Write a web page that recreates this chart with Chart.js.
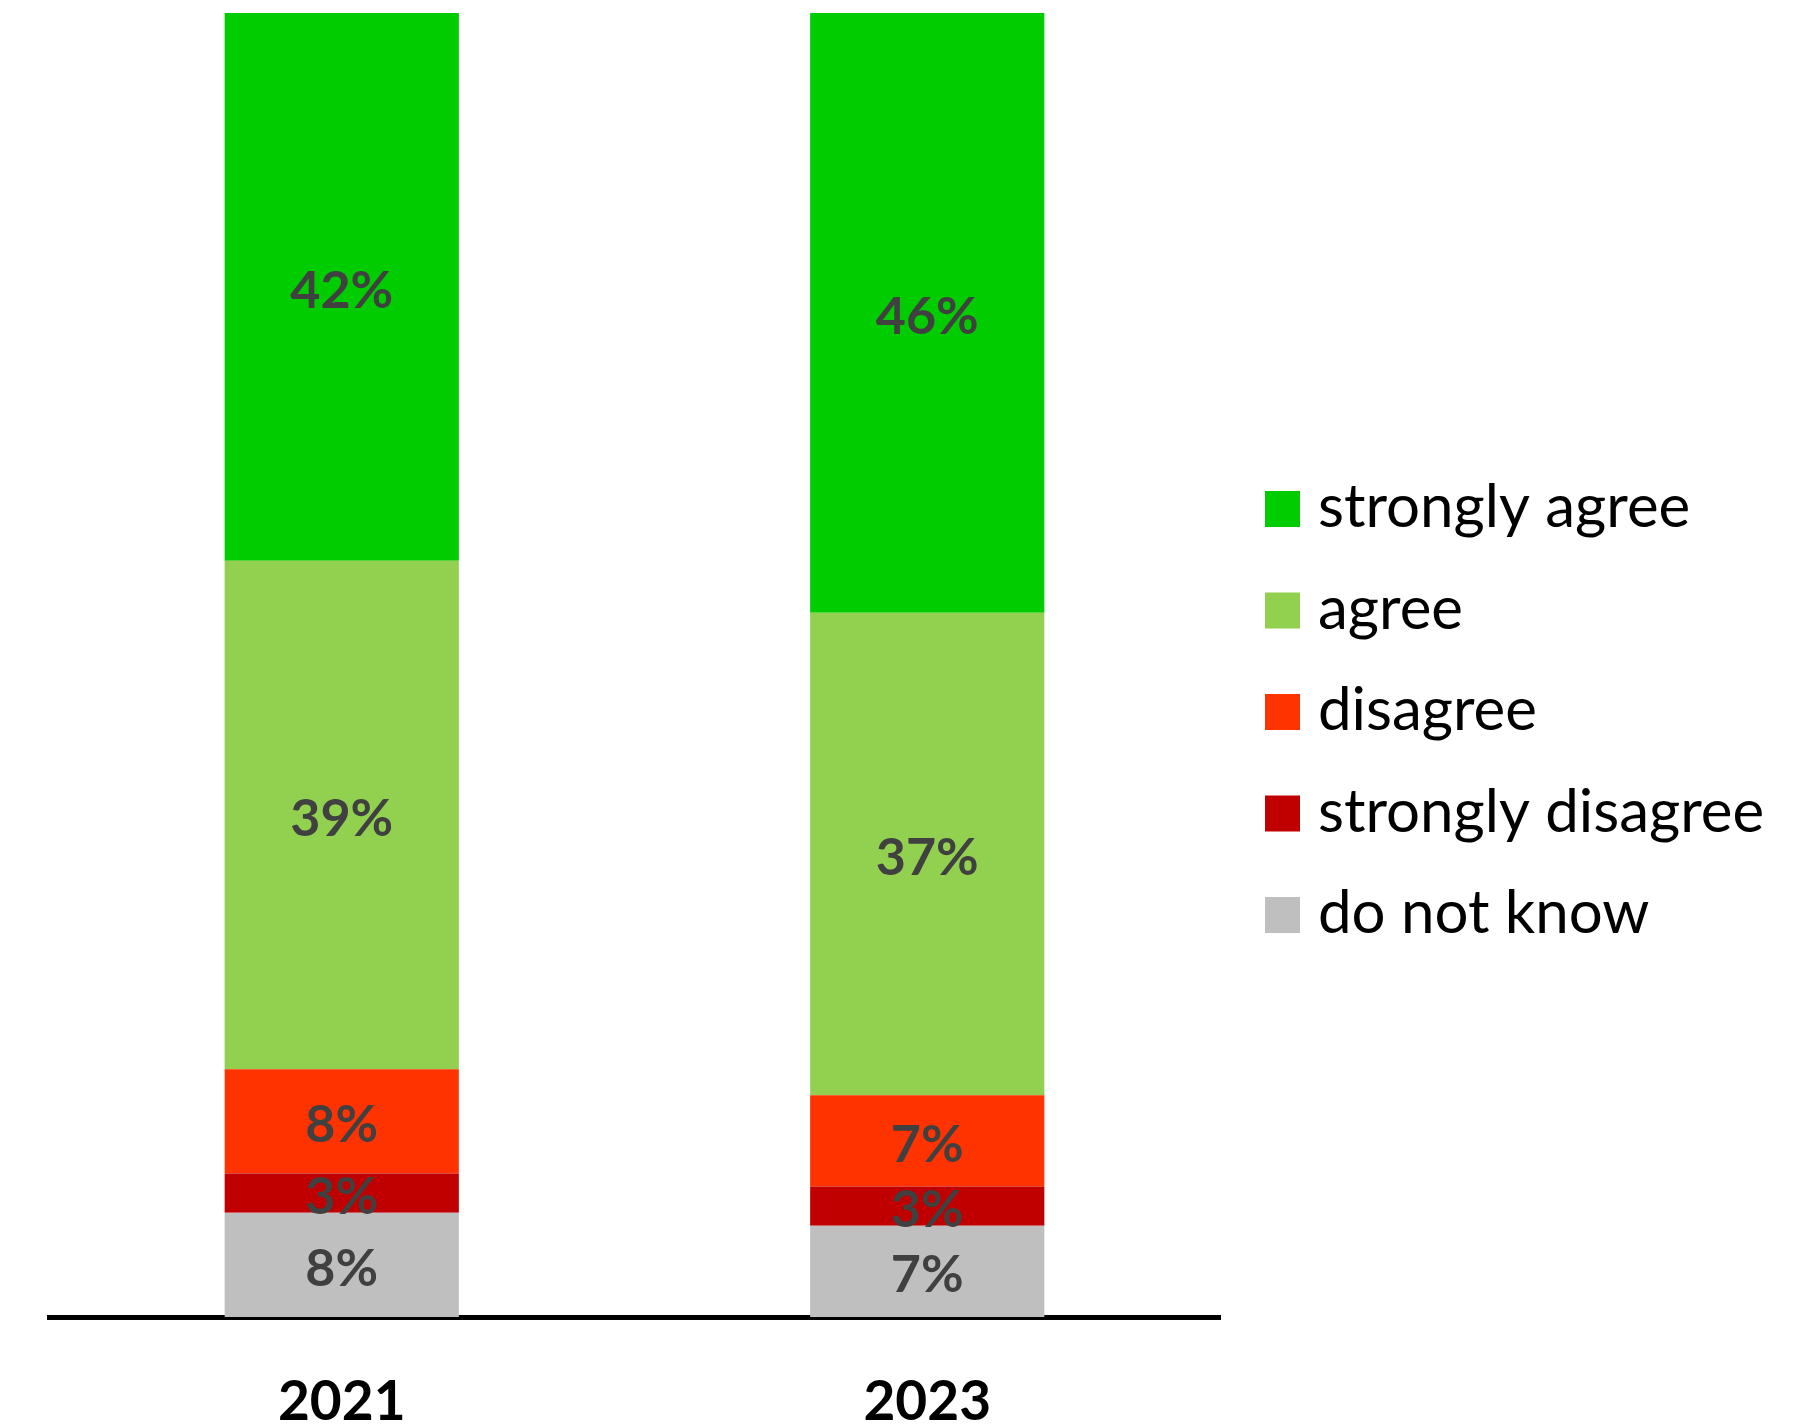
<!DOCTYPE html>
<html>
<head>
<meta charset="utf-8">
<script src="https://cdn.jsdelivr.net/npm/chart.js@4.4.0/dist/chart.umd.min.js"></script>
<style>
  html, body { margin: 0; padding: 0; background: #fff; }
</style>
</head>
<body>
<canvas id="surveyChart" width="1814" height="1424"></canvas>
<script>
const years = ['2021', '2023'];
const responses = ['strongly agree', 'agree', 'disagree', 'strongly disagree', 'do not know'];
const stronglyAgree = [42, 46];
const agree = [39, 37];
const disagree = [8, 7];
const stronglyDisagree = [3, 3];
const doNotKnow = [8, 7];
const responseColors = ['#00CC00', '#92D050', '#FF3300', '#C00000', '#BFBFBF'];

const FONT = 'Lato, "Open Sans", sans-serif';

// percentage written in the middle of every stacked segment
const segmentLabels = {
    id: 'segmentLabels',
    afterDatasetsDraw(chart) {
        const ctx = chart.ctx;
        ctx.save();
        ctx.font = 'bold 52px ' + FONT;
        ctx.fillStyle = '#404040';
        ctx.textAlign = 'center';
        ctx.textBaseline = 'middle';
        chart.data.datasets.forEach((ds, i) => {
            chart.getDatasetMeta(i).data.forEach((bar, j) => {
                const p = bar.getCenterPoint();
                ctx.fillText(ds.data[j] + '%', p.x, p.y + 4);
            });
        });
        ctx.restore();
    }
};

// legend on the right, top to bottom
const sideLegend = {
    id: 'sideLegend',
    afterDraw(chart) {
        const ctx = chart.ctx;
        const x = chart.chartArea.right + 45;
        const midY = chart.height / 2;
        const step = 101.5;
        ctx.save();
        ctx.font = '60px ' + FONT;
        ctx.textAlign = 'left';
        ctx.textBaseline = 'alphabetic';
        responses.forEach((name, i) => {
            const y = midY + (i - (responses.length - 1) / 2) * step;
            ctx.fillStyle = responseColors[i];
            ctx.fillRect(x, y - 18, 35, 36);
            ctx.fillStyle = '#000';
            ctx.fillText(name, x + 53, y + 18);
        });
        ctx.restore();
    }
};

// stacked from the bottom up
const seriesValues = [doNotKnow, stronglyDisagree, disagree, agree, stronglyAgree];
const datasets = seriesValues.map((values, k) => {
    const idx = responses.length - 1 - k;
    return {
        label: responses[idx],
        data: values,
        backgroundColor: responseColors[idx],
        borderWidth: 0,
        barPercentage: 0.4,
        categoryPercentage: 1
    };
});

const ctx = document.getElementById('surveyChart').getContext('2d');
new Chart(ctx, {
    type: 'bar',
    data: { labels: years, datasets: datasets },
    options: {
        responsive: false,
        animation: false,
        layout: { padding: { left: 49, right: 594, top: 13, bottom: 0 } },
        plugins: {
            legend: { display: false },
            tooltip: { enabled: false }
        },
        scales: {
            x: {
                stacked: true,
                afterFit(scale) { scale.height = 107; },
                grid: { display: false, drawTicks: false },
                border: { display: true, color: '#000', width: 5 },
                ticks: {
                    color: '#000',
                    padding: 61,
                    font: { family: FONT, size: 55, weight: 'bold', lineHeight: 0.9 }
                }
            },
            y: {
                stacked: true,
                display: false,
                min: 0,
                max: 100
            }
        }
    },
    plugins: [segmentLabels, sideLegend]
});
</script>
</body>
</html>
